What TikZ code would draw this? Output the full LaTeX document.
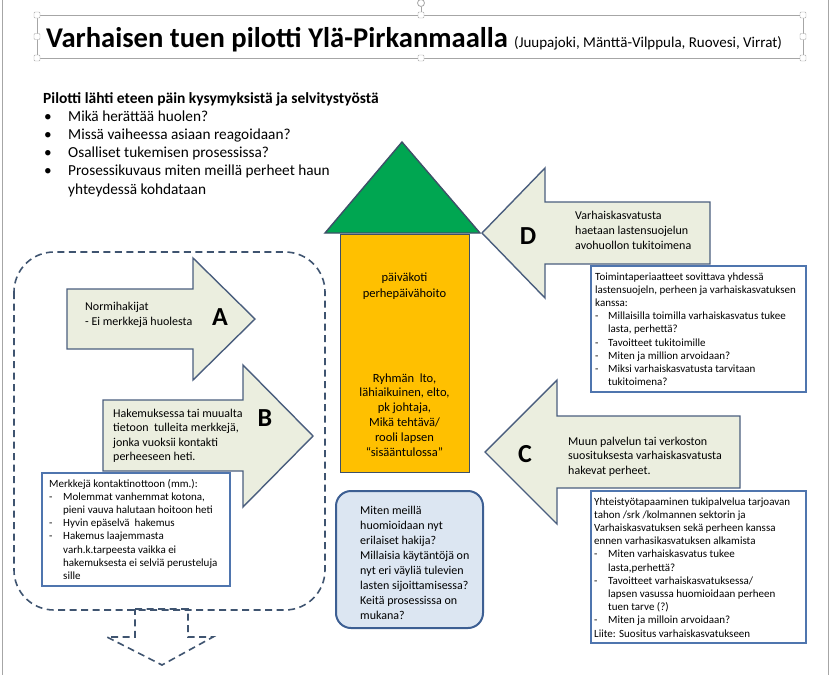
\documentclass[tikz,border=0pt]{standalone}
\usepackage{fontspec}
\setmainfont{Carlito}
\definecolor{arrfill}{HTML}{EBEEDF}
\definecolor{arrline}{HTML}{4A5E7E}
\definecolor{boxline}{HTML}{4F75AE}
\definecolor{orangefill}{HTML}{FFC000}
\definecolor{greenfill}{HTML}{00A651}
\definecolor{bldline}{HTML}{3E5068}
\definecolor{lblue}{HTML}{DCE6F2}
\definecolor{lbline}{HTML}{3D5F93}
\definecolor{selgray}{HTML}{A6A6A6}
\definecolor{dashcol}{HTML}{3F5470}
\newcommand{\itmdash}[1]{\makebox[#1][l]{-}}
\newcommand{\itmind}[1]{\hspace*{#1}}
\begin{document}
\begin{tikzpicture}[x=1pt,y=-1pt,
  arrowshape/.style={draw=arrline, fill=arrfill, line width=1.4pt, line join=miter},
  txt/.style={anchor=base west, inner sep=0pt},
  letter/.style={anchor=center, inner sep=0pt, font=\fontsize{26}{30}\selectfont\bfseries},
  tbox/.style={draw=boxline, fill=white, line width=1.8pt, anchor=north west, inner sep=0pt},
  handle/.style={draw=selgray, fill=white, rounded corners=1pt, minimum size=6pt, inner sep=0pt},
  dashbox/.style={draw=dashcol, line width=1.6pt, dash pattern=on 7pt off 4.5pt},
  fbig/.style={font=\fontsize{12}{15}\selectfont},
  fsmall/.style={font=\fontsize{11}{13.2}\selectfont}
]
\useasboundingbox (0,0) rectangle (833,675);
% page edges
\draw[selgray, line width=1pt] (2.5,0) -- (2.5,675);
\draw[selgray, line width=1pt] (828,0) -- (828,675);
% title selection frame
\draw[selgray, line width=0.8pt] (37,15) rectangle (803,58);
\draw[selgray, line width=0.8pt] (421,7) -- (421,15);
\node[circle, draw=selgray, fill=white, minimum size=7pt, inner sep=0pt, line width=0.8pt] (rot) at (421,3) {};
\foreach \p [count=\i] in {(37,15),(421,15),(803,15),(37,36.5),(803,36.5),(37,58),(421,58),(803,58)}
  \node[handle] (h\i) at \p {};
\node[txt, font=\fontsize{28.6}{34}\selectfont\bfseries] (title) at (46,47) {Varhaisen tuen pilotti Ylä-Pirkanmaalla};
\node[txt, font=\fontsize{15}{18}\selectfont] (subtitle) at (514,47) {(Juupajoki, Mänttä-Vilppula, Ruovesi, Virrat)};
% heading and bullets
\node[txt, font=\fontsize{15.5}{18.3}\selectfont\bfseries] (head) at (43,103) {Pilotti lähti eteen päin kysymyksistä ja selvitystyöstä};
\node[txt, font=\fontsize{15.3}{18.3}\selectfont] (bullets) at (44,121) {\begin{tabular}[t]{@{}l@{}}
\makebox[24pt][l]{•}Mikä herättää huolen?\\
\makebox[24pt][l]{•}Missä vaiheessa asiaan reagoidaan?\\
\makebox[24pt][l]{•}Osalliset tukemisen prosessissa?\\
\makebox[24pt][l]{•}Prosessikuvaus miten meillä perheet haun\\
\hspace*{24pt}yhteydessä kohdataan
\end{tabular}};
% dashed group
\draw[dashbox, rounded corners=40pt] (14,252) rectangle (325,610);
% arrow A
\draw[arrowshape] (67,289) -- (193,289) -- (193,258) -- (255,319) -- (193,380) -- (193,349) -- (67,349) -- cycle;
\node[txt, fbig] (atext) at (85,310) {\begin{tabular}[t]{@{}l@{}}Normihakijat\\- Ei merkkejä huolesta\end{tabular}};
\node[letter] (A) at (220,317) {A};
% arrow B
\draw[arrowshape] (103,400) -- (243,400) -- (243,365) -- (313,436) -- (243,507) -- (243,471) -- (103,471) -- cycle;
\node[txt, font=\fontsize{12}{14.5}\selectfont] (btext) at (113,417) {\begin{tabular}[t]{@{}l@{}}Hakemuksessa tai muualta\\tietoon\ \ tulleita merkkejä,\\jonka vuoksii kontakti\\perheeseen heti.\end{tabular}};
\node[letter] (B) at (265,418) {B};
% small box
\node[tbox, minimum width=188pt, minimum height=113pt] (smallbox) at (41,472) {};
\node[txt, fsmall] (smalltext) at (49,487) {\begin{tabular}[t]{@{}l@{}}
Merkkejä kontaktinottoon (mm.):\\
\itmdash{14pt}Molemmat vanhemmat kotona,\\
\itmind{14pt}pieni vauva halutaan hoitoon heti\\
\itmdash{14pt}Hyvin epäselvä\ \ hakemus\\
\itmdash{14pt}Hakemus laajemmasta\\
\itmind{14pt}varh.k.tarpeesta vaikka ei\\
\itmind{14pt}hakemuksesta ei selviä perusteluja\\
\itmind{14pt}sille
\end{tabular}};
% dashed down arrow
\draw[dashbox] (135,609) -- (188,609) -- (188,637) -- (213,637) -- (162,665) -- (107,637) -- (135,637) -- cycle;
% house
\node[draw=bldline, fill=orangefill, line width=1.4pt, anchor=north west, minimum width=129pt, minimum height=238pt, inner sep=0pt] (house) at (340,234) {};
\draw[draw=bldline, fill=greenfill, line width=1.4pt, line join=miter] (325,233) -- (402,142) -- (480,233) -- cycle;
\node[anchor=base, inner sep=0pt, font=\fontsize{12.5}{16}\selectfont] (house1) at (404.5,281) {\begin{tabular}[t]{@{}c@{}}päiväkoti\\perhepäivähoito\end{tabular}};
\node[anchor=base, inner sep=0pt, font=\fontsize{12.5}{14.8}\selectfont] (house2) at (404.5,382) {\begin{tabular}[t]{@{}c@{}}Ryhmän\ \ lto,\\lähiaikuinen, elto,\\pk johtaja,\\Mikä tehtävä/\\rooli lapsen\\“sisääntulossa”\end{tabular}};
% arrow D
\draw[arrowshape] (710,202) -- (545,202) -- (545,168) -- (482,233) -- (545,298) -- (545,264) -- (710,264) -- cycle;
\node[letter] (D) at (528,236) {D};
\node[txt, fbig] (dtext) at (575,219) {\begin{tabular}[t]{@{}l@{}}Varhaiskasvatusta\\haetaan lastensuojelun\\avohuollon tukitoimena\end{tabular}};
% right box 1
\node[tbox, minimum width=215pt, minimum height=126pt] (rbox1) at (590,265) {};
\node[txt, fsmall] (r1text) at (595,280) {\begin{tabular}[t]{@{}l@{}}
Toimintaperiaatteet sovittava yhdessä\\
lastensuojeln, perheen ja varhaiskasvatuksen\\
kanssa:\\
\itmdash{13pt}Millaisilla toimilla varhaiskasvatus tukee\\
\itmind{13pt}lasta, perhettä?\\
\itmdash{13pt}Tavoitteet tukitoimille\\
\itmdash{13pt}Miten ja million arvoidaan?\\
\itmdash{13pt}Miksi varhaiskasvatusta tarvitaan\\
\itmind{13pt}tukitoimena?
\end{tabular}};
% arrow C
\draw[arrowshape] (740,416) -- (557,416) -- (557,380) -- (485,452) -- (557,524) -- (557,488) -- (740,488) -- cycle;
\node[letter] (C) at (525,454) {C};
\node[txt, font=\fontsize{12}{14.5}\selectfont] (ctext) at (568,445) {\begin{tabular}[t]{@{}l@{}}Muun palvelun tai verkoston\\suosituksesta varhaiskasvatusta\\hakevat perheet.\end{tabular}};
% right box 2
\node[tbox, minimum width=215pt, minimum height=152pt] (rbox2) at (590,490) {};
\node[txt, fsmall] (r2text) at (594,505) {\begin{tabular}[t]{@{}l@{}}
Yhteistyötapaaminen tukipalvelua tarjoavan\\
tahon /srk /kolmannen sektorin ja\\
Varhaiskasvatuksen sekä perheen kanssa\\
ennen varhasikasvatuksen alkamista\\
\itmdash{14pt}Miten varhaiskasvatus tukee\\
\itmind{14pt}lasta,perhettä?\\
\itmdash{14pt}Tavoitteet varhaiskasvatuksessa/\\
\itmind{14pt}lapsen vasussa huomioidaan perheen\\
\itmind{14pt}tuen tarve (?)\\
\itmdash{14pt}Miten ja milloin arvoidaan?\\
Liite: Suositus varhaiskasvatukseen
\end{tabular}};
% centre question box
\node[draw=lbline, fill=lblue, line width=2pt, rounded corners=15pt, anchor=north west, minimum width=147pt, minimum height=137pt, inner sep=0pt] (qbox) at (335,490) {};
\node[txt, fbig] (qtext) at (360,514) {\begin{tabular}[t]{@{}l@{}}
Miten meillä\\huomioidaan nyt\\erilaiset hakija?\\Millaisia käytäntöjä on\\nyt eri väyliä tulevien\\lasten sijoittamisessa?\\Keitä prosessissa on\\mukana?
\end{tabular}};
\end{tikzpicture}
\end{document}
